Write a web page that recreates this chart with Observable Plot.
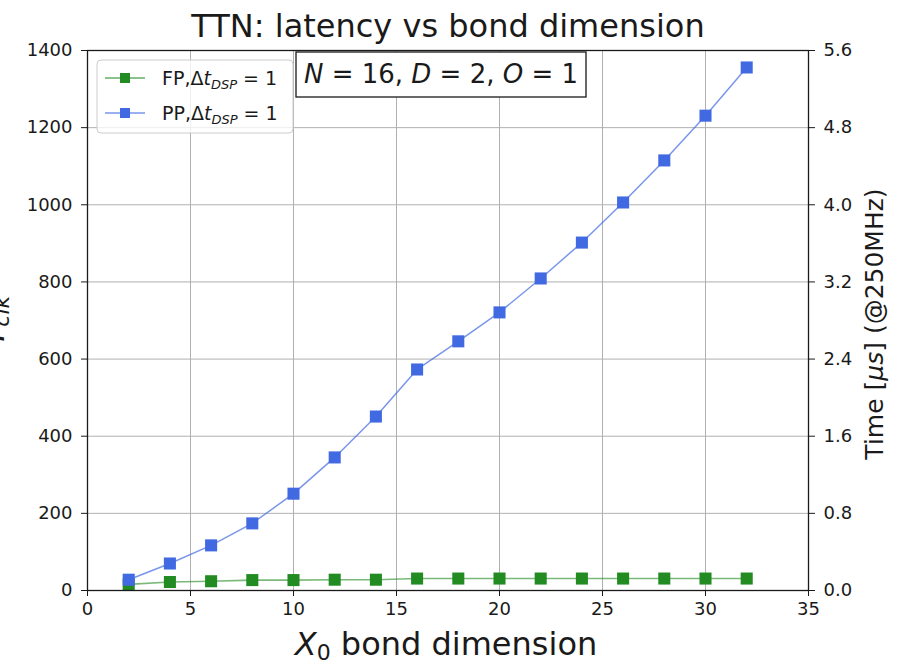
<!DOCTYPE html>
<html>
<head>
<meta charset="utf-8">
<script src="https://cdn.jsdelivr.net/npm/d3@7"></script>
<script src="https://cdn.jsdelivr.net/npm/@observablehq/plot@0.6"></script>
<style>
  body { margin: 0; background: #fff; }
  #chart { width: 897px; height: 666px; }
</style>
</head>
<body>
<div id="chart"></div>
<script>
// Bond dimension X0 and latency in clock cycles for the two pipelines
const bondDims = [2, 4, 6, 8, 10, 12, 14, 16, 18, 20, 22, 24, 26, 28, 30, 32];
const fpCycles = [16, 22, 24, 27, 27, 28, 28, 31, 31, 31, 31, 31, 31, 31, 31, 31];
const ppCycles = [28, 70, 117, 174, 251, 345, 451, 573, 646, 721, 809, 902, 1006, 1115, 1231, 1356];

// Axis ticks
const xTicks = [0, 5, 10, 15, 20, 25, 30, 35];
const yTicks = [0, 200, 400, 600, 800, 1000, 1200, 1400];
const clockMHz = 250; // cycles per microsecond

const seriesNames = ["FP", "PP"];
const seriesColors = ["forestgreen", "royalblue"];

const fpRows = bondDims.map((x, i) => ({x, y: fpCycles[i]}));
const ppRows = bondDims.map((x, i) => ({x, y: ppCycles[i]}));

const font = "DejaVu Sans";

const svg = Plot.plot({
  width: 897,
  height: 666,
  marginTop: 50,
  marginRight: 89,
  marginBottom: 76,
  marginLeft: 87,
  style: {fontFamily: font, fontSize: "18px", color: "#1a1a1a", background: "#fff", overflow: "visible"},
  x: {domain: [0, 35]},
  y: {domain: [0, 1400]},
  marks: [
    Plot.gridX(xTicks, {stroke: "#b0b0b0", strokeOpacity: 1, strokeWidth: 1}),
    Plot.gridY(yTicks, {stroke: "#b0b0b0", strokeOpacity: 1, strokeWidth: 1}),
    Plot.line(fpRows, {x: "x", y: "y", stroke: seriesColors[0], strokeWidth: 1.6, strokeOpacity: 0.6}),
    Plot.dot(fpRows, {x: "x", y: "y", symbol: "square", r: 6.8, fill: seriesColors[0], stroke: null}),
    Plot.line(ppRows, {x: "x", y: "y", stroke: seriesColors[1], strokeWidth: 1.5, strokeOpacity: 0.7}),
    Plot.dot(ppRows, {x: "x", y: "y", symbol: "square", r: 6.8, fill: seriesColors[1], stroke: null}),
    Plot.frame({stroke: "#1a1a1a", strokeWidth: 1.3}),
    Plot.axisX(xTicks, {tickSize: 6, tickPadding: 6, label: null}),
    Plot.axisY(yTicks, {anchor: "left", tickSize: 6, tickPadding: 9, label: null, tickFormat: d => String(d)}),
    Plot.axisY(yTicks, {anchor: "right", tickSize: 6, tickPadding: 9, label: null,
      tickFormat: d => (d / clockMHz).toFixed(1)})
  ]
});

document.getElementById("chart").appendChild(svg);

const g = d3.select(svg).append("g")
  .attr("font-family", font).attr("fill", "#1a1a1a").attr("text-anchor", "start");

// Title
g.append("text")
  .attr("x", 448).attr("y", 37)
  .attr("text-anchor", "middle")
  .attr("font-size", 32)
  .text("TTN: latency vs bond dimension");

// x-axis label: X0 bond dimension
const xl = g.append("text").attr("x", 446).attr("y", 655).attr("text-anchor", "middle").attr("font-size", 32);
xl.append("tspan").attr("font-style", "italic").text("X");
xl.append("tspan").attr("font-size", 22).attr("dy", 5).text("0");
xl.append("tspan").attr("dy", -5).text(" bond dimension");

// left y-axis label: T_clk (runs past the left edge of the figure)
const yl = g.append("text").attr("transform", "translate(4,321) rotate(-90)")
  .attr("text-anchor", "middle").attr("font-size", 32).attr("font-style", "italic");
yl.append("tspan").text("T");
yl.append("tspan").attr("font-size", 22).attr("dy", 5).text("clk");

// right y-axis label
const yr = g.append("text").attr("transform", "translate(883,324) rotate(-90)")
  .attr("text-anchor", "middle").attr("font-size", 25);
yr.append("tspan").text("Time [");
yr.append("tspan").attr("font-style", "italic").text("μs");
yr.append("tspan").text("] (@250MHz)");

// parameter box
g.append("rect").attr("x", 296).attr("y", 52).attr("width", 290).attr("height", 45)
  .attr("fill", "#fff").attr("stroke", "#1a1a1a").attr("stroke-width", 1.3);
const pt = g.append("text").attr("x", 441).attr("y", 83).attr("text-anchor", "middle").attr("font-size", 26);
[["N", " = 16, "], ["D", " = 2, "], ["O", " = 1"]].forEach(([v, rest]) => {
  pt.append("tspan").attr("font-style", "italic").text(v);
  pt.append("tspan").text(rest);
});

// legend
const lg = g.append("g");
lg.append("rect").attr("x", 97).attr("y", 60).attr("width", 196).attr("height", 73).attr("rx", 4)
  .attr("fill", "#fff").attr("fill-opacity", 0.8).attr("stroke", "#cccccc");
seriesNames.forEach((name, i) => {
  const cy = 78 + i * 35;
  lg.append("line").attr("x1", 105).attr("x2", 145).attr("y1", cy).attr("y2", cy)
    .attr("stroke", seriesColors[i]).attr("stroke-width", 1.5).attr("stroke-opacity", 0.7);
  lg.append("rect").attr("x", 120).attr("y", cy - 5).attr("width", 10).attr("height", 10).attr("fill", seriesColors[i]);
  const t = lg.append("text").attr("x", 162).attr("y", cy + 7).attr("font-size", 19).attr("text-anchor", "start");
  t.append("tspan").text(name + ",Δ");
  t.append("tspan").attr("font-style", "italic").text("t");
  t.append("tspan").attr("font-style", "italic").attr("font-size", 13).attr("dy", 4).text("DSP");
  t.append("tspan").attr("dy", -4).text(" = 1");
});
</script>
</body>
</html>
